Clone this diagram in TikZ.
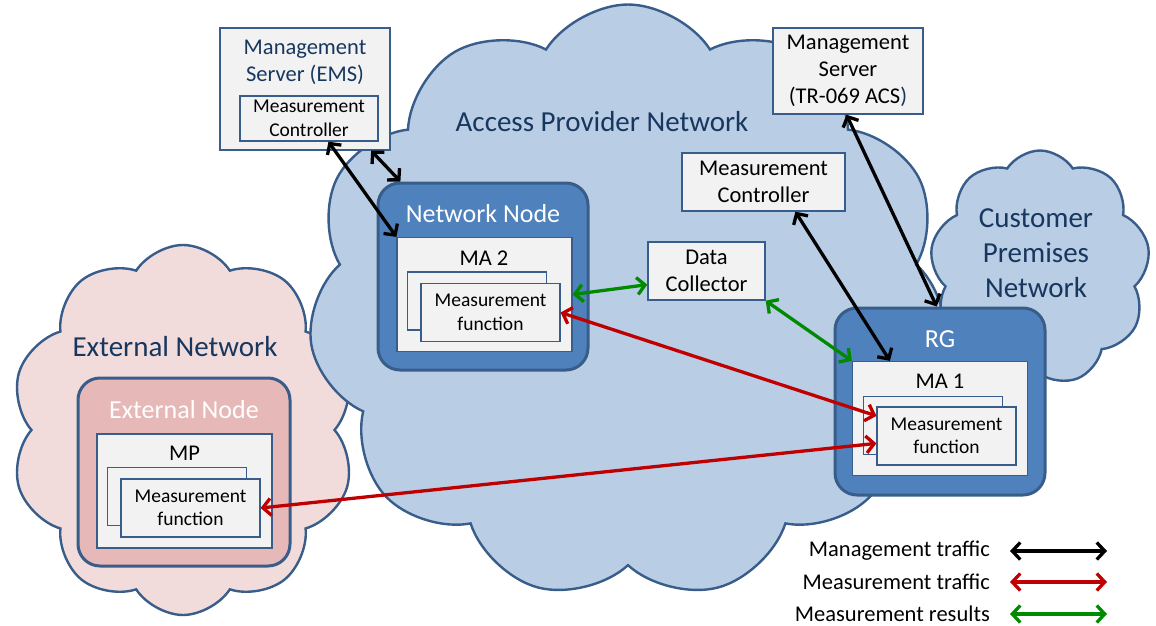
\documentclass[tikz,border=0pt]{standalone}
\usepackage{fontspec}
\setmainfont{Carlito}
\usetikzlibrary{shapes.symbols, arrows.meta, positioning}

\definecolor{cloudblue}{HTML}{B9CDE5}
\definecolor{cloudpink}{HTML}{F2DCDB}
\definecolor{edgeblue}{HTML}{385D8A}
\definecolor{nodeblue}{HTML}{4F81BD}
\definecolor{nodepink}{HTML}{E6B9B8}
\definecolor{boxgray}{HTML}{F2F2F2}
\definecolor{textblue}{HTML}{17375E}
\definecolor{mred}{HTML}{C00000}
\definecolor{mgreen}{HTML}{008A00}

\begin{document}
\begin{tikzpicture}[
    x=1pt, y=-1pt,
    every node/.style={font=\fontsize{22.5}{27}\selectfont, align=center, inner sep=0pt},
    net cloud/.style={cloud, cloud puffs=#1, cloud puff arc=115, cloud ignores aspect, draw=edgeblue, line width=2.4pt},
    cloud label/.style={font=\fontsize{29}{35}\selectfont, text=textblue},
    server box/.style={rectangle, draw=edgeblue, line width=1.4pt, fill=boxgray},
    device/.style={rectangle, rounded corners=22pt, draw=edgeblue, line width=3pt},
    device title/.style={font=\fontsize{26}{30}\selectfont, text=white},
    agent box/.style={rectangle, draw=edgeblue, line width=1.2pt, fill=boxgray, minimum width=175, minimum height=114},
    function box/.style={rectangle, draw=edgeblue, line width=1.2pt, fill=boxgray, minimum width=139, minimum height=58, font=\fontsize{19.5}{23.5}\selectfont},
    traffic/.style={{Straight Barb[length=8pt, width=17pt]}-{Straight Barb[length=8pt, width=17pt]}, line width=3.3pt},
    mgmt/.style={traffic, black},
    meas/.style={traffic, mred},
    results/.style={traffic, mgreen}
]
\useasboundingbox (0,0) rectangle (1156,626);

% Clouds
\node[net cloud=10, fill=cloudpink, minimum width=345, minimum height=370] (extcloud) at (183,430) {};
\node[net cloud=11, fill=cloudblue, minimum width=640, minimum height=595] (apncloud) at (628,302) {};
\node[net cloud=9, fill=cloudblue, minimum width=220, minimum height=235] (cpncloud) at (1040,268) {};
\node[cloud label] (apnlabel) at (602,122) {Access Provider Network};
\node[cloud label] (extlabel) at (175,347) {External Network};
\node[cloud label] (cpnlabel) at (1036,253) {Customer\\Premises\\Network};

% Management servers, controller, collector
\node[server box, minimum width=170, minimum height=122] (ems) at (305,89) {};
\node[text=textblue] (emstitle) at (305,62) {Management\\Server (EMS)};
\node[server box, font=\fontsize{19.5}{23.5}\selectfont, minimum width=138, minimum height=45] (emsctrl) at (309,118.5) {Measurement\\Controller};
\node[server box, minimum width=150, minimum height=86] (acs) at (848,71) {Management\\Server\\(TR-069 ACS\textcolor{textblue}{)}};
\node[server box, minimum width=163, minimum height=58] (mctrl) at (763.5,182) {Measurement\\Controller};
\node[server box, minimum width=117, minimum height=58] (dc) at (706.5,271) {Data\\Collector};

% Network Node
\node[device, fill=nodeblue, minimum width=210, minimum height=187] (nnode) at (483,276.5) {};
\node[device title] (nnodetitle) at (483,214) {Network Node};
\node[agent box] (ma2) at (484.5,294.5) {};
\node (ma2label) at (484,258) {MA 2};
\node[function box] (mf2back) at (477,301) {};
\node[function box] (mf2) at (490.5,312.5) {Measurement\\function};

% RG
\node[device, fill=nodeblue, minimum width=210, minimum height=187] (rg) at (940,401.5) {};
\node[device title] (rgtitle) at (940,339) {RG};
\node[agent box] (ma1) at (940,418.5) {};
\node (ma1label) at (940,381) {MA 1};
\node[function box] (mf1back) at (933,425.5) {};
\node[function box] (mf1) at (946.5,436) {Measurement\\function};

% External Node
\node[device, fill=nodepink, minimum width=212, minimum height=188] (extnode) at (184,472) {};
\node[device title] (extnodetitle) at (184,410) {External Node};
\node[agent box] (mp) at (184.5,491) {};
\node (mplabel) at (184.5,453) {MP};
\node[function box] (mfpback) at (177,496.5) {};
\node[function box] (mfp) at (190.5,508) {Measurement\\function};

% Traffic
\draw[mgmt] (emsctrl.-50) -- (ma2.north west);
\draw[mgmt] (ems.-43) -- (nnode.131);
\draw[mgmt] (acs.-92) -- (rg.92);
\draw[mgmt] (mctrl.-43) -- (ma1.131);
\draw[results] (ma2.east) -- (dc.193);
\draw[results] (dc.south east) -- (ma1.north west);
\draw[meas] (mf2.east) -- (mf1.164);
\draw[meas] (mfp.east) -- (mf1.186);

% Legend
\node[anchor=east] (lmgmt) at (990,551) {Management traffic};
\node[anchor=east] (lmeas) at (990,582) {Measurement traffic};
\node[anchor=east] (lres) at (990,614) {Measurement results};
\coordinate (lmgmta) at (1010,551);
\coordinate (lmgmtb) at (1107,551);
\coordinate (lmeasa) at (1010,582);
\coordinate (lmeasb) at (1107,582);
\coordinate (lresa) at (1010,614);
\coordinate (lresb) at (1107,614);
\draw[mgmt] (lmgmta) -- (lmgmtb);
\draw[meas] (lmeasa) -- (lmeasb);
\draw[results] (lresa) -- (lresb);
\end{tikzpicture}
\end{document}
